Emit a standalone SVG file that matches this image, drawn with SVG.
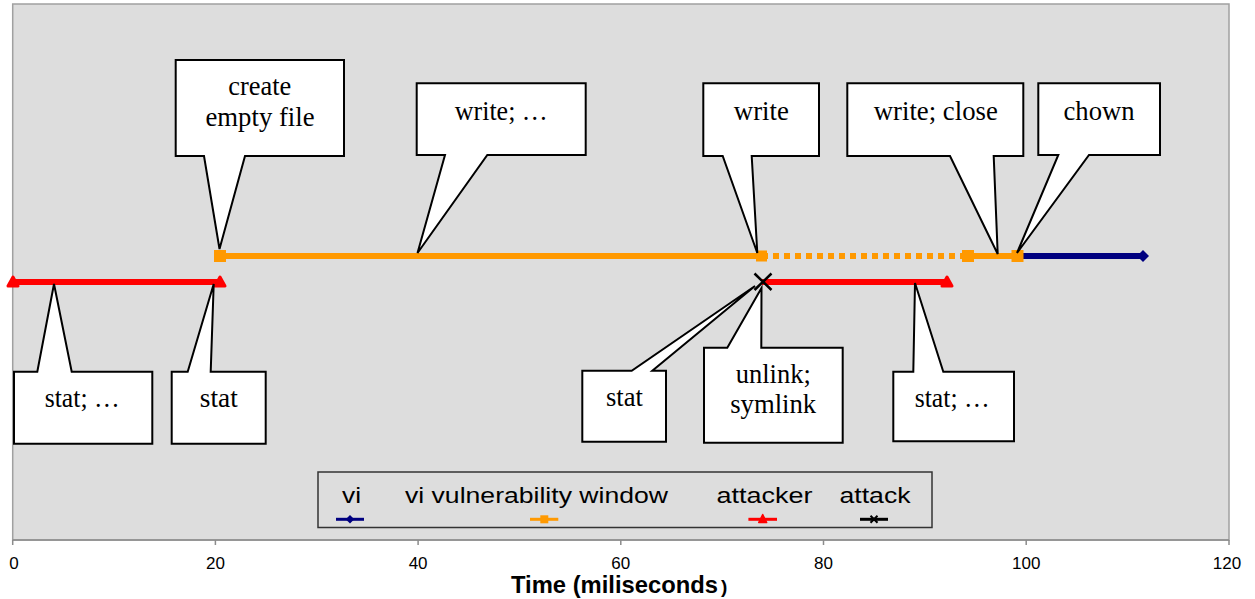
<svg xmlns="http://www.w3.org/2000/svg" width="1255" height="599" viewBox="0 0 1255 599">
<style>
.plot{fill:#DDDDDD;stroke:#A0A0A0;stroke-width:1.5}
.axis{stroke:#8C8C8C;stroke-width:1.5;fill:none}
.tick{font-family:"Liberation Sans",Arial,sans-serif;font-size:17px;fill:#000;text-anchor:middle}
.title{font-family:"Liberation Sans",Arial,sans-serif;font-weight:bold;fill:#000}
.leg{font-family:"Liberation Sans",Arial,sans-serif;font-size:22px;fill:#000}
.call{fill:#FFFFFF;stroke:#000;stroke-width:2;stroke-linejoin:miter}
.ct{font-family:"Liberation Serif","Times New Roman",serif;font-size:28px;fill:#000;text-anchor:middle}
.orange{stroke:#FF9900;stroke-width:6;fill:none}
.red{stroke:#FF0000;stroke-width:6;fill:none}
.navy{stroke:#000080;stroke-width:6;fill:none}
.sq{fill:#FF9900}
.tri{fill:#FF0000;stroke:#FF0000;stroke-width:3;stroke-linejoin:round}
.dia{fill:#000080}
.xm{stroke:#000;stroke-width:2.5;fill:none}
</style>
<rect width="1255" height="599" fill="#FFFFFF"/>
<g id="chart">
<rect class="plot" x="12.7" y="4" width="1216.3" height="536"/>
<path class="axis" d="M12.7,540 H1229 M12.7,540 V545 M215.4,540 V545 M418.1,540 V545 M620.8,540 V545 M823.5,540 V545 M1026.2,540 V545 M1229,540 V545"/>
<text class="tick" x="14" y="568.5">0</text>
<text class="tick" x="215.4" y="568.5">20</text>
<text class="tick" x="418.1" y="568.5">40</text>
<text class="tick" x="620.8" y="568.5">60</text>
<text class="tick" x="823.5" y="568.5">80</text>
<text class="tick" x="1026.2" y="568.5">100</text>
<text class="tick" x="1227" y="568.5">120</text>
<text class="title" x="511" y="593" font-size="24" textLength="207" lengthAdjust="spacingAndGlyphs">Time (miliseconds</text>
<text class="title" x="721" y="593" font-size="19">)</text>
</g>
<g id="series">
<path class="orange" d="M220,256 H762"/>
<path class="orange" d="M762,256 H968" stroke-dasharray="6 5"/>
<path class="orange" d="M968,256 H1017"/>
<path class="navy" d="M1017,256 H1143"/>
<path class="red" d="M13,282 H220"/>
<path class="red" d="M762,282 H947"/>
<rect class="sq" x="214" y="250" width="12" height="12"/>
<rect class="sq" x="756" y="250.5" width="11" height="11"/>
<rect class="sq" x="962" y="250" width="12" height="12"/>
<rect class="sq" x="1011.5" y="250" width="12" height="12"/>
<polygon class="dia" points="1143,250 1149,256 1143,262 1137,256"/>
<polygon class="tri" points="13,277 18,286 8,286"/>
<polygon class="tri" points="220,277 225,286 215,286"/>
<polygon class="tri" points="947,277 952,286 942,286"/>
<path class="xm" d="M754.5,273.5 L771.5,290 M771.5,273.5 L754.5,290"/>
</g>
<g id="legend">
<rect x="318" y="472" width="614" height="55.5" fill="#DDDDDD" stroke="#333333" stroke-width="1.5"/>
<text class="leg" x="342" y="503" textLength="19" lengthAdjust="spacingAndGlyphs">vi</text>
<text class="leg" x="405" y="503" textLength="263" lengthAdjust="spacingAndGlyphs">vi vulnerability window</text>
<text class="leg" x="716.5" y="503" textLength="96" lengthAdjust="spacingAndGlyphs">attacker</text>
<text class="leg" x="839.5" y="503" textLength="71" lengthAdjust="spacingAndGlyphs">attack</text>
<path d="M336,519.3 H364" stroke="#000080" stroke-width="3"/>
<polygon points="350,515 354.3,519.3 350,523.6 345.7,519.3" fill="#000080"/>
<path d="M530,519.3 H558.3" stroke="#FF9900" stroke-width="3"/>
<rect x="540.3" y="515.3" width="8" height="8" fill="#FF9900"/>
<path d="M748.4,519.3 H777" stroke="#FF0000" stroke-width="3"/>
<polygon points="762.7,514.5 766.7,522.5 758.7,522.5" fill="#FF0000" stroke="#FF0000" stroke-width="1.5" stroke-linejoin="round"/>
<path d="M860,519.3 H888" stroke="#000000" stroke-width="3"/>
<path d="M870.5,515.8 L877.5,522.8 M877.5,515.8 L870.5,522.8" stroke="#000" stroke-width="2"/>
</g>
<g id="callout-create">
<path class="call" d="M175.7,60 H344 V156 H245 L219.5,249 L204,156 H175.7 Z"/>
<text class="ct" x="259.7" y="95" textLength="63" lengthAdjust="spacingAndGlyphs">create</text>
<text class="ct" x="260" y="126" textLength="109" lengthAdjust="spacingAndGlyphs">empty file</text>
</g>
<g id="callout-write1">
<path class="call" d="M416.7,83.3 H585.7 V155 H487.3 L417.5,253 L445,155 H416.7 Z"/>
<text class="ct" x="501.3" y="120" textLength="93" lengthAdjust="spacingAndGlyphs">write; …</text>
</g>
<g id="callout-write2">
<path class="call" d="M703.3,83.3 H819 V156 H751.7 L757.3,253 L722.7,156 H703.3 Z"/>
<text class="ct" x="761.3" y="120" textLength="55" lengthAdjust="spacingAndGlyphs">write</text>
</g>
<g id="callout-writeclose">
<path class="call" d="M847.3,83.3 H1023.3 V156 H993.7 L997.7,254 L950,156 H847.3 Z"/>
<text class="ct" x="935.8" y="120" textLength="124" lengthAdjust="spacingAndGlyphs">write; close</text>
</g>
<g id="callout-chown">
<path class="call" d="M1038.3,83.3 H1160 V155 H1089 L1017,253 L1058.3,155 H1038.3 Z"/>
<text class="ct" x="1099" y="120" textLength="71" lengthAdjust="spacingAndGlyphs">chown</text>
</g>
<g id="callout-stat1">
<path class="call" d="M14,371.7 H37.3 L54,284 L71.7,371.7 H152.3 V443.7 H14 Z"/>
<text class="ct" x="82.2" y="407.3" textLength="75" lengthAdjust="spacingAndGlyphs">stat; …</text>
</g>
<g id="callout-stat2">
<path class="call" d="M171.7,371.7 H187.7 L213.7,284 L210.7,371.7 H265.7 V443.7 H171.7 Z"/>
<text class="ct" x="218.8" y="407.3" textLength="38" lengthAdjust="spacingAndGlyphs">stat</text>
</g>
<g id="callout-stat3">
<path class="call" d="M582.3,370.7 H631.7 L755,286 L652.3,370.7 H666 V441.7 H582.3 Z"/>
<text class="ct" x="624.5" y="405.7" textLength="37" lengthAdjust="spacingAndGlyphs">stat</text>
</g>
<g id="callout-unlink">
<path class="call" d="M704,347.7 H727.3 L761.5,288 L761.3,347.7 H842.7 V442.7 H704 Z"/>
<text class="ct" x="773.3" y="383.3" textLength="75" lengthAdjust="spacingAndGlyphs">unlink;</text>
<text class="ct" x="773.2" y="413.3" textLength="86" lengthAdjust="spacingAndGlyphs">symlink</text>
</g>
<g id="callout-stat4">
<path class="call" d="M893.3,371.7 H913.3 L915,283 L943.3,371.7 H1014 V441.3 H893.3 Z"/>
<text class="ct" x="952.2" y="407.3" textLength="75" lengthAdjust="spacingAndGlyphs">stat; …</text>
</g>
</svg>
